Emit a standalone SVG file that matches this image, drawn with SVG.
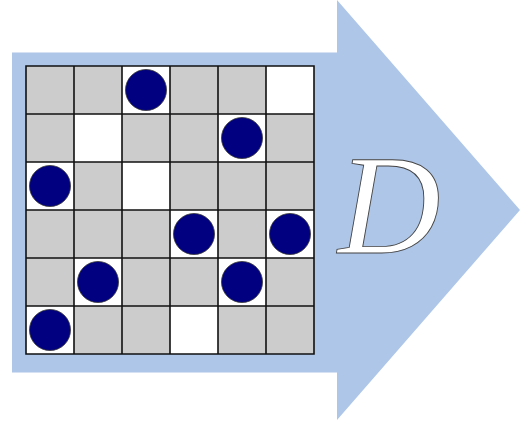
<svg xmlns="http://www.w3.org/2000/svg" width="520" height="424" viewBox="0 0 520 424">
<style>
.g{fill:#cccccc}
.w{fill:#ffffff}
.ln{stroke:#111;stroke-width:1.6;fill:none}
.dot{fill:#000080;stroke:#333;stroke-width:0.8}
.lab{font-family:"Liberation Serif",serif;font-style:italic;font-size:142px;fill:#fff;stroke:#444;stroke-width:0.9}
</style>
<g id="arrow">
<polygon points="12,52.5 337,52.5 337,0 520,210 337,420 337,372.5 12,372.5" fill="#aec6e8"/>
</g>
<g id="grid">
<rect x="26" y="66" width="288" height="288" class="g"/>
<rect x="122" y="66" width="48" height="48" class="w"/>
<rect x="266" y="66" width="48" height="48" class="w"/>
<rect x="74" y="114" width="48" height="48" class="w"/>
<rect x="218" y="114" width="48" height="48" class="w"/>
<rect x="26" y="162" width="48" height="48" class="w"/>
<rect x="122" y="162" width="48" height="48" class="w"/>
<rect x="170" y="210" width="48" height="48" class="w"/>
<rect x="266" y="210" width="48" height="48" class="w"/>
<rect x="74" y="258" width="48" height="48" class="w"/>
<rect x="218" y="258" width="48" height="48" class="w"/>
<rect x="26" y="306" width="48" height="48" class="w"/>
<rect x="170" y="306" width="48" height="48" class="w"/>
<path class="ln" d="M26,66H314V354H26Z M74,66V354 M122,66V354 M170,66V354 M218,66V354 M266,66V354 M26,114H314 M26,162H314 M26,210H314 M26,258H314 M26,306H314"/>
</g>
<g id="dots">
<circle class="dot" cx="146" cy="90" r="20.5"/>
<circle class="dot" cx="242" cy="138" r="20.5"/>
<circle class="dot" cx="50" cy="186" r="20.5"/>
<circle class="dot" cx="194" cy="234" r="20.5"/>
<circle class="dot" cx="290" cy="234" r="20.5"/>
<circle class="dot" cx="98" cy="282" r="20.5"/>
<circle class="dot" cx="242" cy="282" r="20.5"/>
<circle class="dot" cx="50" cy="330" r="20.5"/>
</g>
<g id="label">
<text class="lab" x="338" y="253">D</text>
</g>
</svg>
